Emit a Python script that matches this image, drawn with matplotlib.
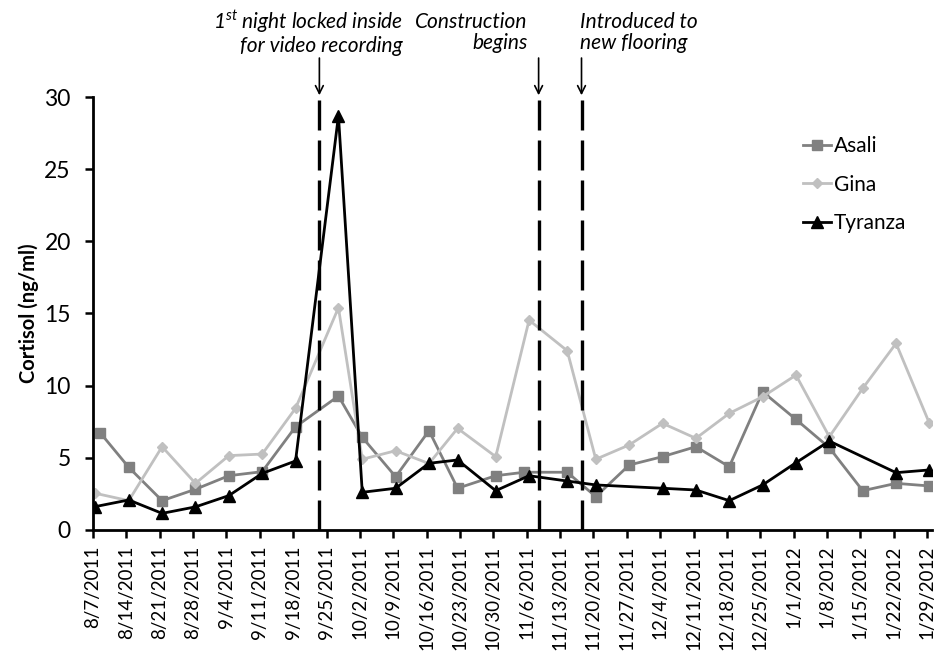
import datetime as dt
import matplotlib
matplotlib.use("Agg")
from matplotlib import pyplot as plt
import matplotlib.dates as mdates
import matplotlib.ticker as ticker

plt.rcParams["font.family"] = ["Lato", "DejaVu Sans"]
plt.rcParams["mathtext.fontset"] = "custom"
plt.rcParams["mathtext.it"] = "Lato:italic"
plt.rcParams["mathtext.rm"] = "Lato:italic"

# sampling dates (month/day), Aug 2011 - Jan 2012
asali_dates = ["8/8/2011", "8/14/2011", "8/21/2011", "8/28/2011", "9/4/2011", "9/11/2011",
               "9/18/2011", "9/27/2011", "10/2/2011", "10/9/2011", "10/16/2011", "10/22/2011",
               "10/30/2011", "11/5/2011", "11/14/2011", "11/20/2011", "11/27/2011", "12/4/2011",
               "12/11/2011", "12/18/2011", "12/25/2011", "1/1/2012", "1/8/2012", "1/15/2012",
               "1/22/2012", "1/29/2012"]
asali = [6.74, 4.34, 2.03, 2.82, 3.76, 4.04, 7.15, 9.28, 6.42, 3.69, 6.88, 2.89, 3.76,
         4.0, 4.0, 2.31, 4.5, 5.08, 5.77, 4.38, 9.58, 7.66, 5.7, 2.72, 3.23, 3.05]

gina_dates = ["8/7/2011", "8/14/2011", "8/21/2011", "8/28/2011", "9/4/2011", "9/11/2011",
              "9/18/2011", "9/27/2011", "10/2/2011", "10/9/2011", "10/16/2011", "10/22/2011",
              "10/30/2011", "11/6/2011", "11/14/2011", "11/20/2011", "11/27/2011", "12/4/2011",
              "12/11/2011", "12/18/2011", "12/25/2011", "1/1/2012", "1/8/2012", "1/15/2012",
              "1/22/2012", "1/29/2012"]
gina = [2.54, 2.03, 5.77, 3.23, 5.15, 5.26, 8.43, 15.4, 4.9, 5.49, 4.6, 7.04, 5.08,
        14.54, 12.42, 4.9, 5.89, 7.39, 6.35, 8.08, 9.23, 10.73, 6.46, 9.81, 12.93, 7.39]

tyranza_dates = ["8/7/2011", "8/14/2011", "8/21/2011", "8/28/2011", "9/4/2011", "9/11/2011",
                 "9/18/2011", "9/27/2011", "10/2/2011", "10/9/2011", "10/16/2011", "10/22/2011",
                 "10/30/2011", "11/6/2011", "11/14/2011", "11/20/2011", "12/4/2011",
                 "12/11/2011", "12/18/2011", "12/25/2011", "1/1/2012", "1/8/2012",
                 "1/22/2012", "1/29/2012"]
tyranza = [1.62, 2.08, 1.15, 1.6, 2.38, 3.92, 4.78, 28.7, 2.61, 2.89, 4.62, 4.85, 2.72,
           3.76, 3.39, 3.12, 2.89, 2.77, 2.03, 3.12, 4.66, 6.16, 3.97, 4.16]

events = ["9/23/2011", "11/8/2011", "11/17/2011"]
event_labels = ["1$^{st}$ night locked inside\nfor video recording",
                "Construction\nbegins",
                "Introduced to\nnew flooring"]

first_day = "8/7/2011"
last_day = "1/29/2012"


def toDate(s):
    # each day is centred in its own slot, like a spreadsheet date axis
    return dt.datetime.strptime(s, "%m/%d/%Y") + dt.timedelta(hours=12)


def dateLabel(x, pos=None):
    d = mdates.num2date(x)
    return f"{d.month}/{d.day}/{d.year}"


fig = plt.figure(figsize=(9.46, 6.59), dpi=100)
ax = fig.add_axes([0.0983, 0.1958, 0.8867, 0.657])

series = [
    ("Asali", asali_dates, asali, "#808080", "s", 7.5),
    ("Gina", gina_dates, gina, "#c0c0c0", "D", 5.5),
    ("Tyranza", tyranza_dates, tyranza, "black", "^", 8),
]
for label, dates, vals, col, mk, ms in series:
    ax.plot([toDate(d) for d in dates], vals, label=label, color=col, lw=2,
            marker=mk, markersize=ms, markeredgecolor=col, markerfacecolor=col)

start = toDate(first_day) - dt.timedelta(hours=12)
end = toDate(last_day) + dt.timedelta(hours=12)
ax.set_xlim(start, end)
ax.set_ylim(0, 30)

for ev in events:
    ax.plot([toDate(ev), toDate(ev)], [0, 30], color="black", lw=2.4,
            linestyle=(0, (9, 3)), zorder=5)

# arrows and captions above the plot
offsets = [(60, "right"), (-8, "right"), (-1, "left")]
for ev, text, (dx, ha) in zip(events, event_labels, offsets):
    ax.annotate("", xy=(toDate(ev), 1.004), xycoords=("data", "axes fraction"),
                xytext=(toDate(ev), 1.09), textcoords=("data", "axes fraction"),
                arrowprops=dict(arrowstyle="->", color="black", lw=1.2,
                                shrinkA=0, shrinkB=0, mutation_scale=14),
                annotation_clip=False)
    ax.annotate(text, xy=(toDate(ev), 1.0), xycoords=("data", "axes fraction"),
                xytext=(dx, 46.5), textcoords="offset points", ha=ha, va="center",
                multialignment=ha, fontsize=15, style="italic", linespacing=1.1,
                annotation_clip=False)

ticks = [start + dt.timedelta(days=7 * i) for i in range(26)]
ax.set_xticks(ticks)
ax.xaxis.set_major_formatter(ticker.FuncFormatter(dateLabel))
ax.yaxis.set_major_locator(ticker.MultipleLocator(5))
for t in ax.get_xticklabels():
    t.set_rotation(90)
ax.tick_params(axis="x", labelsize=13.5, length=6, width=1.8, direction="out", pad=5)
ax.tick_params(axis="y", labelsize=16.5, length=6, width=1.8, direction="out", pad=10)

for side in ["top", "right"]:
    ax.spines[side].set_visible(False)
for side in ["left", "bottom"]:
    ax.spines[side].set_linewidth(2)

ax.set_ylabel("Cortisol (ng/ml)", fontsize=14.5, fontweight="bold", labelpad=4)

ax.legend(loc="upper left", bbox_to_anchor=(0.846, 0.91), frameon=False, fontsize=15,
          handlelength=1.35, handletextpad=0.15, labelspacing=0.9, borderaxespad=0,
          borderpad=0)

plt.savefig("out.png", dpi=100)
plt.close()
